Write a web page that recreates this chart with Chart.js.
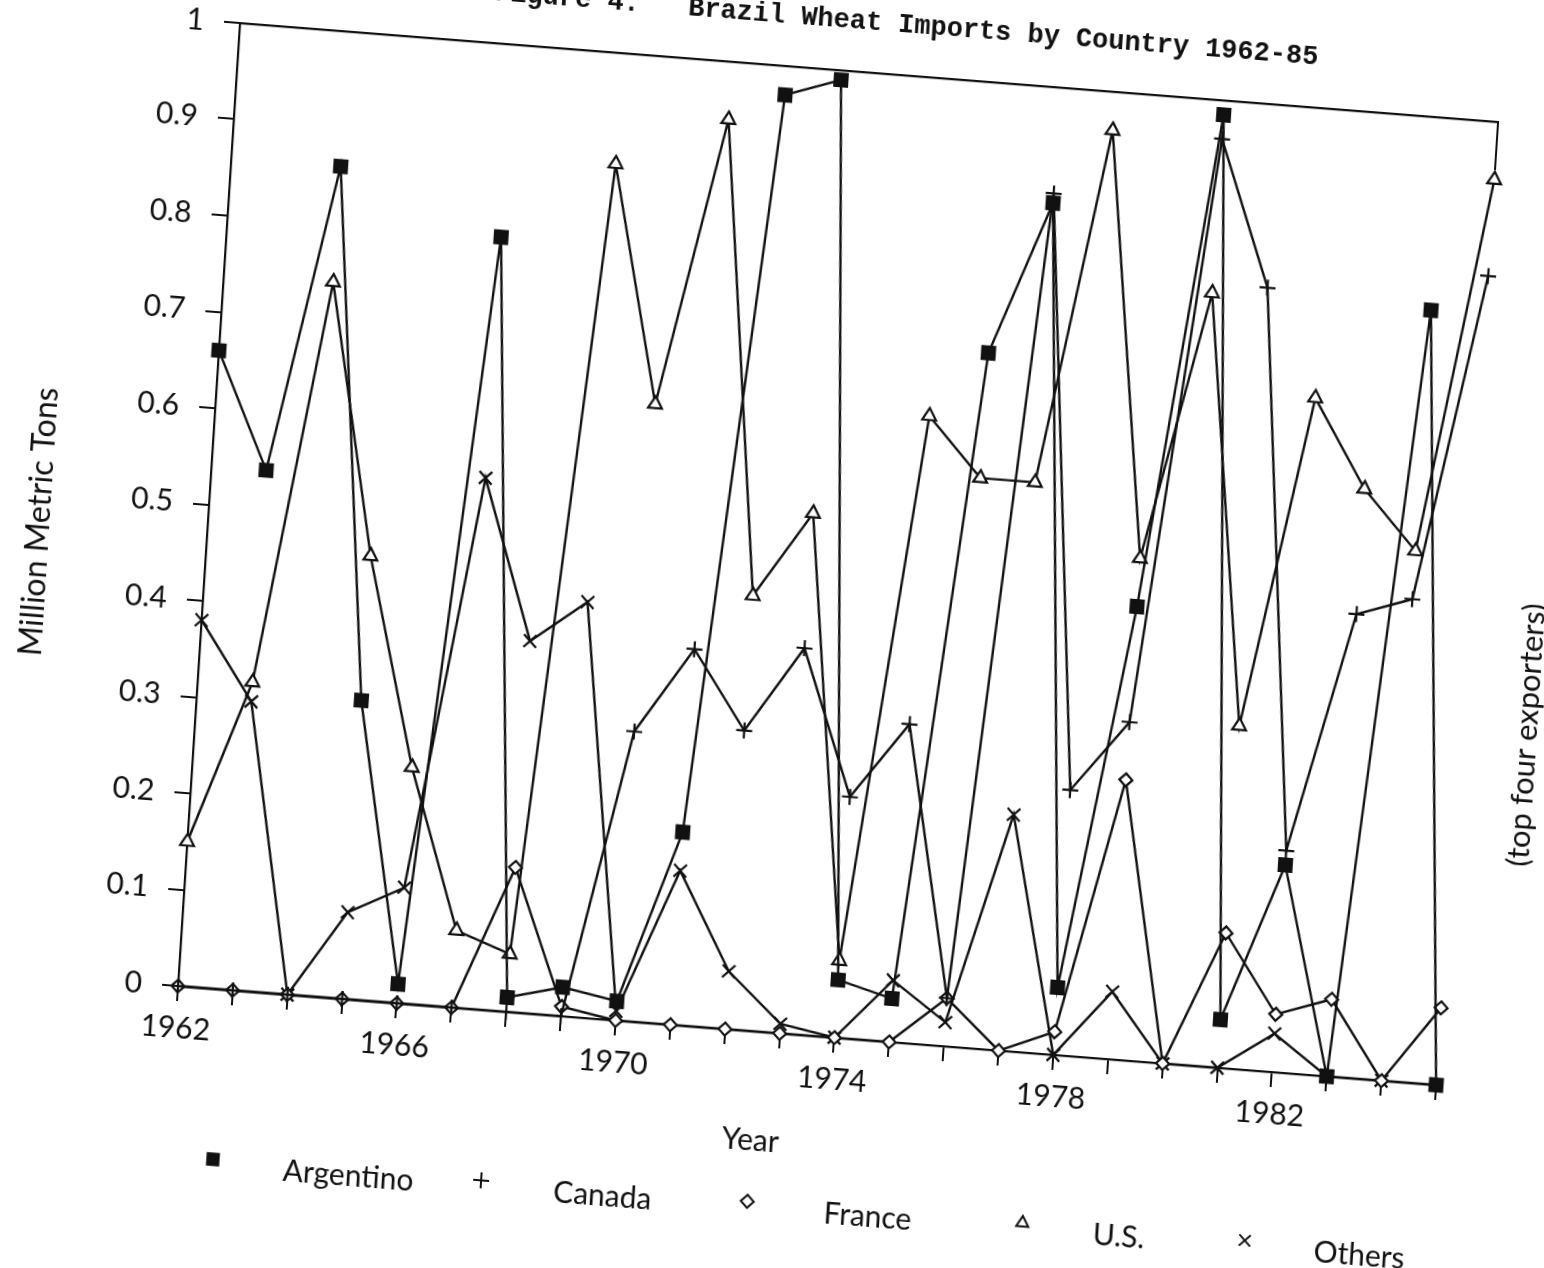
<!DOCTYPE html>
<html>
<head>
<meta charset="utf-8">
<script src="https://cdn.jsdelivr.net/npm/chart.js@4.4.1/dist/chart.umd.min.js"></script>
<style>
  html, body { margin: 0; padding: 0; background: #fff; width: 1544px; height: 1268px; overflow: hidden; }
  /* the scanned figure is tilted a few degrees, so the whole chart is tilted the same way */
  #wrap {
    position: absolute; left: -70px; top: -110px; width: 1630px; height: 1400px;
    transform-origin: 248px 1096px;
    transform: matrix(0.9969, 0.0784, -0.0642, 0.9979, 0, 0);
  }
</style>
</head>
<body>
<div id="wrap"><canvas id="chart" width="1630" height="1400"></canvas></div>
<script>
// data (million metric tons)
const years = [1962, 1963, 1964, 1965, 1966, 1967, 1968, 1969, 1970, 1971, 1972, 1973,
               1974, 1975, 1976, 1977, 1978, 1979, 1980, 1981, 1982, 1983, 1984, 1985];
const argentina = [0.66, 0.54, 0.86, 0.31, 0.02, 0.80, 0.015, 0.03, 0.02, 0.20, 0.97, 0.99,
                   0.06, 0.045, 0.72, 0.88, 0.07, 0.47, 0.985, 0.05, 0.215, 0.0, 0.80, 0.0];
const canada = [0, 0, 0, 0, 0, 0, 0, 0, 0.30, 0.39, 0.31, 0.40,
                0.25, 0.33, 0.05, 0.89, 0.275, 0.35, 0.96, 0.81, 0.23, 0.48, 0.50, 0.84];
const france = [0, 0, 0, 0, 0, 0, 0.15, 0.01, 0, 0, 0, 0,
                0, 0, 0.05, 0, 0.024, 0.29, 0, 0.14, 0.06, 0.08, 0, 0.08];
const us = [0.15, 0.32, 0.74, 0.46, 0.245, 0.08, 0.06, 0.885, 0.64, 0.94, 0.45, 0.54,
            0.08, 0.65, 0.59, 0.59, 0.96, 0.52, 0.80, 0.355, 0.70, 0.61, 0.55, 0.94];
const others = [0.38, 0.30, 0, 0.09, 0.12, 0.55, 0.385, 0.43, 0.01, 0.16, 0.06, 0.01,
                0, 0.064, 0.025, 0.245, 0, 0.07, 0, 0, 0.04, 0, 0, 0];
const labelYears = [1962, 1966, 1970, 1974, 1978, 1982];
const seriesNames = ['Argentino', 'Canada', 'France', 'U.S.', 'Others'];

const INK = '#111';
const tickFont = { family: 'Lato', size: 30, weight: '400' };

const pts = vals => vals.map((v, i) => ({ x: years[i], y: v }));
const serie = (label, vals, style, radius, fill) => ({
  label,
  data: pts(vals),
  borderColor: INK,
  borderWidth: 2.4,
  tension: 0,
  pointStyle: style,
  pointRadius: radius,
  pointBorderWidth: 2.2,
  pointBorderColor: INK,
  pointBackgroundColor: fill,
  clip: 14
});

const datasets = [
  serie(seriesNames[0], argentina, 'rect', 9, INK),
  serie(seriesNames[1], canada, 'cross', 8, INK),
  serie(seriesNames[2], france, 'rectRot', 6.5, '#fff'),
  serie(seriesNames[3], us, 'triangle', 8, '#fff'),
  serie(seriesNames[4], others, 'crossRot', 9, INK)
];

// titles, legend and the bit of right frame
const textPlugin = {
  id: 'texts',
  afterDraw(chart) {
    const { ctx, chartArea: a, scales } = chart;
    ctx.save();
    ctx.fillStyle = INK;
    ctx.strokeStyle = INK;

    // title (its left part runs off the top of the page)
    ctx.font = 'bold 27px "Liberation Mono", "DejaVu Sans Mono", monospace';
    ctx.textAlign = 'left';
    ctx.textBaseline = 'middle';
    ctx.fillText('Figure 4.   Brazil Wheat Imports by Country 1962-85', a.left + 252, a.top - 50);

    // short right edge of the frame
    ctx.lineWidth = 2;
    ctx.beginPath();
    ctx.moveTo(a.right, a.top);
    ctx.lineTo(a.right, scales.y.getPixelForValue(0.95));
    ctx.stroke();

    // y title
    ctx.font = '400 32px Lato';
    ctx.textAlign = 'center';
    ctx.save();
    ctx.translate(a.left - 168, a.top + 513);
    ctx.rotate(-Math.PI / 2);
    ctx.fillText('Million Metric Tons', 0, 0);
    ctx.restore();

    // right side note
    ctx.font = '400 31px Lato';
    ctx.save();
    ctx.translate(a.right + 68, a.top + 609);
    ctx.rotate(-Math.PI / 2);
    ctx.fillText('(top four exporters)', 0, 0);
    ctx.restore();

    // x title
    ctx.font = '400 30px Lato';
    ctx.fillText('Year', a.left + 581, a.bottom + 109);

    // legend row
    const markX = [46, 315, 582, 858, 1081];
    const textX = [182, 437, 703, 955, 1196];
    const y = a.bottom + 170;
    ctx.font = '400 30px Lato';
    datasets.forEach((ds, i) => {
      ctx.fillStyle = ds.pointBackgroundColor;
      ctx.strokeStyle = INK;
      ctx.lineWidth = 2;
      Chart.helpers.drawPoint(ctx, {
        pointStyle: ds.pointStyle,
        radius: ds.pointStyle === 'triangle' ? 7 : ds.pointStyle === 'rectRot' ? 6.5 : 8,
        rotation: 0,
        borderWidth: 2.2
      }, a.left + markX[i], y);
      ctx.fillStyle = INK;
      ctx.fillText(ds.label, a.left + textX[i], y + 6);
    });
    ctx.restore();
  }
};

new Chart(document.getElementById('chart'), {
  type: 'line',
  data: { datasets },
  options: {
    responsive: false,
    animation: false,
    devicePixelRatio: 1,
    layout: { padding: { left: 0, right: 120, top: 131, bottom: 0 } },
    plugins: {
      legend: { display: false },
      title: { display: false },
      tooltip: { enabled: false }
    },
    scales: {
      x: {
        type: 'linear',
        min: 1962,
        max: 1985,
        afterFit: s => { s.height = 304; },
        ticks: {
          stepSize: 1,
          autoSkip: false,
          maxRotation: 0,
          padding: 9,
          color: INK,
          font: tickFont,
          callback: v => labelYears.includes(v) ? String(v) : ''
        },
        grid: { drawOnChartArea: false, tickLength: 15, color: INK, lineWidth: 2 },
        border: { color: INK, width: 2.2 }
      },
      xTop: {
        type: 'linear',
        axis: 'x',
        position: 'top',
        min: 1962,
        max: 1985,
        afterFit: s => { s.height = 0; },
        ticks: { display: false },
        grid: { display: false },
        border: { color: INK, width: 2.2 }
      },
      y: {
        min: 0,
        max: 1,
        afterFit: s => { s.width = 248; },
        ticks: {
          stepSize: 0.1,
          padding: 20,
          color: INK,
          font: tickFont,
          callback: v => v === 0 ? '0' : v === 1 ? '1' : String(Math.round(v * 10) / 10)
        },
        grid: { drawOnChartArea: false, tickLength: 16, color: INK, lineWidth: 2 },
        border: { color: INK, width: 2.2 }
      }
    }
  },
  plugins: [textPlugin]
});
</script>
</body>
</html>
